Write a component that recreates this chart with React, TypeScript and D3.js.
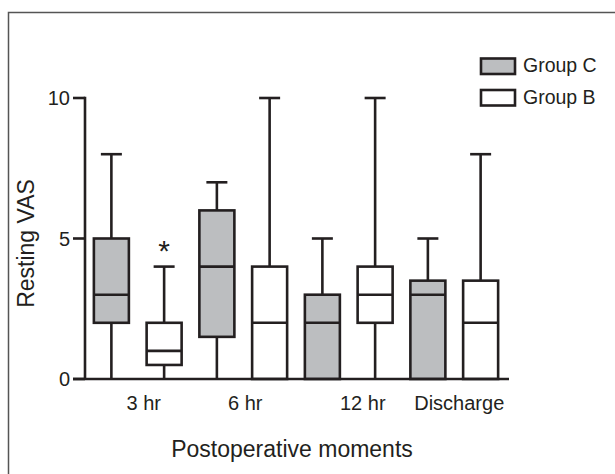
import React from "react";
import * as d3 from "d3";

const groups = ["3 hr", "6 hr", "12 hr", "Discharge"];
const seriesNames = ["Group C", "Group B"];
// Group C
const cMin = [0, 0, 0, 0];
const cQ1 = [2, 1.5, 0, 0];
const cMed = [3, 4, 2, 3];
const cQ3 = [5, 6, 3, 3.5];
const cMax = [8, 7, 5, 5];
// Group B
const bMin = [0, 0, 0, 0];
const bQ1 = [0.5, 0, 2, 0];
const bMed = [1, 2, 3, 2];
const bQ3 = [2, 4, 4, 3.5];
const bMax = [4, 10, 10, 8];
const yTicks = [0, 5, 10];
const significant = [{ group: "3 hr", series: 1, mark: "*" }];

// layout nudges for the category labels (style only)
const labelNudge = [6, 2, 14, 5];

const W = 615;
const H = 474;
const INK = "#231f20";
const GRAY = "#bcbec0";
const FONT = "'Liberation Sans', Arial, sans-serif";

export default function App() {
  const y = d3.scaleLinear().domain([0, 10]).range([379, 98]);
  const x = d3.scaleBand<string>().domain(groups).range([85, 507]).padding(0);
  const sub = d3.scaleBand<number>().domain([0, 1]).range([0, x.bandwidth()]).padding(0);
  const boxW = 35;
  const capW = 21;
  const sw = 2.6;

  const series = [
    { name: seriesNames[0], fill: GRAY, min: cMin, q1: cQ1, med: cMed, q3: cQ3, max: cMax },
    { name: seriesNames[1], fill: "#ffffff", min: bMin, q1: bQ1, med: bMed, q3: bQ3, max: bMax },
  ];

  const cx = (g: string, s: number) => (x(g) as number) + (sub(s) as number) + sub.bandwidth() / 2;

  return (
    <svg width={W} height={H} style={{ position: "absolute", left: 0, top: 0, background: "#fff" }} fontFamily={FONT}>
      <rect x={8.5} y={12.5} width={W + 20} height={H + 20} fill="none" stroke="#555" strokeWidth={1.5} />

      {/* boxes */}
      {series.map((s, si) =>
        groups.map((g, gi) => {
          const c = cx(g, si);
          return (
            <g key={`${si}-${gi}`}>
              <line x1={c} x2={c} y1={y(s.max[gi])} y2={y(s.q3[gi])} stroke={INK} strokeWidth={sw} />
              <line x1={c} x2={c} y1={y(s.q1[gi])} y2={y(s.min[gi])} stroke={INK} strokeWidth={sw} />
              <line x1={c - capW / 2} x2={c + capW / 2} y1={y(s.max[gi])} y2={y(s.max[gi])} stroke={INK} strokeWidth={sw} />
              <rect
                x={c - boxW / 2}
                y={y(s.q3[gi])}
                width={boxW}
                height={y(s.q1[gi]) - y(s.q3[gi])}
                fill={s.fill}
                stroke={INK}
                strokeWidth={sw}
              />
              <line x1={c - boxW / 2} x2={c + boxW / 2} y1={y(s.med[gi])} y2={y(s.med[gi])} stroke={INK} strokeWidth={sw} />
            </g>
          );
        })
      )}

      {/* significance */}
      {significant.map((m, i) => {
        const si = m.series;
        const gi = groups.indexOf(m.group);
        const s = series[si];
        return (
          <text key={i} x={cx(m.group, si)} y={y(s.max[gi]) - 6} textAnchor="middle" fontSize={30} fill={INK}>
            {m.mark}
          </text>
        );
      })}

      {/* axes */}
      <line x1={85} x2={85} y1={y(10) - sw / 2} y2={y(0)} stroke={INK} strokeWidth={sw} />
      <line x1={73} x2={509} y1={y(0)} y2={y(0)} stroke={INK} strokeWidth={sw} />
      {yTicks.map((t) => (
        <g key={t}>
          <line x1={73} x2={85} y1={y(t)} y2={y(t)} stroke={INK} strokeWidth={sw} />
          <text x={70} y={y(t) + 7} textAnchor="end" fontSize={20} fill={INK}>
            {t}
          </text>
        </g>
      ))}
      {groups.map((g, gi) => (
        <text
          key={g}
          x={(x(g) as number) + x.bandwidth() / 2 + labelNudge[gi]}
          y={410}
          textAnchor="middle"
          fontSize={20}
          fill={INK}
        >
          {g}
        </text>
      ))}
      <text x={292} y={457} textAnchor="middle" fontSize={23} fill={INK}>
        Postoperative moments
      </text>
      <text transform={`translate(34,243.5) rotate(-90)`} textAnchor="middle" fontSize={23} fill={INK}>
        Resting VAS
      </text>

      {/* legend */}
      {series.map((s, si) => (
        <g key={s.name} transform={`translate(0, ${si * 31.5})`}>
          <rect x={481} y={58.5} width={34} height={15.5} fill={s.fill} stroke={INK} strokeWidth={sw} />
          <text x={523} y={72} fontSize={19.5} fill={INK}>
            {s.name}
          </text>
        </g>
      ))}
    </svg>
  );
}
